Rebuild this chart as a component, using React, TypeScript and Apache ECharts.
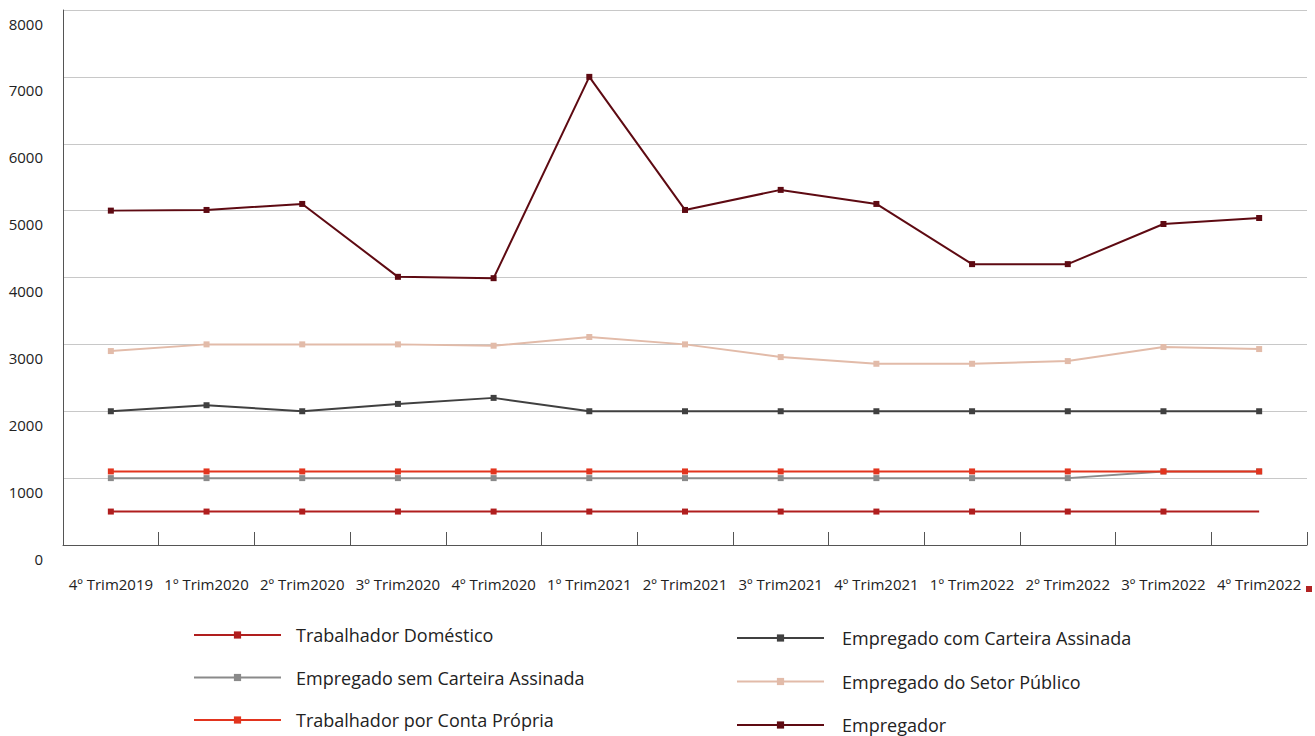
import React, { useEffect, useRef } from "react";
import * as echarts from "echarts";

const categories = [
  "4º Trim2019", "1º Trim2020", "2º Trim2020", "3º Trim2020", "4º Trim2020",
  "1º Trim2021", "2º Trim2021", "3º Trim2021", "4º Trim2021",
  "1º Trim2022", "2º Trim2022", "3º Trim2022", "4º Trim2022",
];

const domestico = [500, 500, 500, 500, 500, 500, 500, 500, 500, 500, 500, 500, 500];
const semCarteira = [1000, 1000, 1000, 1000, 1000, 1000, 1000, 1000, 1000, 1000, 1000, 1100, 1100];
const contaPropria = [1100, 1100, 1100, 1100, 1100, 1100, 1100, 1100, 1100, 1100, 1100, 1100, 1100];
const comCarteira = [2000, 2090, 2000, 2110, 2200, 2000, 2000, 2000, 2000, 2000, 2000, 2000, 2000];
const setorPublico = [2900, 3000, 3000, 3000, 2980, 3110, 3000, 2810, 2710, 2710, 2750, 2960, 2930];
const empregador = [5000, 5010, 5100, 4010, 3990, 7000, 5010, 5310, 5100, 4200, 4200, 4800, 4890];

const FONT = "'Open Sans', 'Noto Sans', sans-serif";

export default function App() {
  const ref = useRef<HTMLDivElement>(null);
  useEffect(() => {
    if (!ref.current) return;
    const chart = echarts.init(ref.current, undefined, { renderer: "svg" });
    const mk = (name: string, data: any[], color: string, z: number) => ({
      name,
      type: "line",
      data,
      symbol: "rect",
      symbolSize: 6,
      showSymbol: true,
      z,
      lineStyle: { color, width: 2 },
      itemStyle: { color },
      emphasis: { disabled: true },
    });
    const domData = domestico.map((v, i) =>
      i === domestico.length - 1 ? { value: v, symbol: "none" } : v
    );
    const legendText = (pad: number) => ({
      fontFamily: FONT,
      fontSize: 18,
      color: "#222",
      padding: [0, 0, 0, pad],
    });
    const legendBase = {
      orient: "vertical",
      itemWidth: 87,
      itemHeight: 9,
      height: 120,
      width: 450,
      padding: 0,
      selectedMode: false,
    };
    chart.setOption({
      animation: false,
      backgroundColor: "#fff",
      grid: { left: 63, right: 8, top: 10, bottom: 191, outerBoundsMode: "none", containLabel: false },
      xAxis: {
        type: "category",
        data: categories,
        boundaryGap: true,
        axisLine: { show: true, lineStyle: { color: "#555", width: 1 } },
        axisTick: { show: true, inside: true, length: 13, lineStyle: { color: "#555" } },
        axisLabel: {
          fontFamily: FONT,
          fontSize: 15,
          color: "#222",
          margin: 31,
          interval: 0,
        },
        splitLine: { show: false },
      },
      yAxis: {
        type: "value",
        min: 0,
        max: 8000,
        interval: 1000,
        axisLine: { show: true, lineStyle: { color: "#555", width: 1 } },
        axisTick: { show: false },
        axisLabel: {
          fontFamily: FONT,
          fontSize: 15,
          color: "#222",
          margin: 20,
          lineHeight: 27,
          formatter: (v: number) => "\n" + String(v),
        },
        splitLine: { show: true, lineStyle: { color: "#c8c8c8", width: 1 } },
      },
      legend: [
        {
          ...legendBase,
          left: 193,
          top: 626,
          itemGap: 24.5,
          textStyle: legendText(10),
          data: ["Trabalhador Doméstico", "Empregado sem Carteira Assinada", "Trabalhador por Conta Própria"],
        },
        {
          ...legendBase,
          left: 736,
          top: 629,
          itemGap: 25.5,
          textStyle: legendText(13),
          data: ["Empregado com Carteira Assinada", "Empregado do Setor Público", "Empregador"],
        },
      ],
      graphic: [
        {
          type: "rect",
          shape: { x: 1306, y: 586, width: 6, height: 6 },
          style: { fill: "#B22222" },
        },
      ],
      series: [
        mk("Empregador", empregador, "#5E0A12", 2),
        mk("Empregado do Setor Público", setorPublico, "#E2BBA9", 3),
        mk("Empregado com Carteira Assinada", comCarteira, "#404040", 4),
        mk("Empregado sem Carteira Assinada", semCarteira, "#8A8A8A", 5),
        mk("Trabalhador por Conta Própria", contaPropria, "#E2341E", 6),
        mk("Trabalhador Doméstico", domData, "#B01E1E", 7),
      ],
    });
    return () => chart.dispose();
  }, []);
  return <div ref={ref} style={{ width: 1315, height: 736, position: "absolute", left: 0, top: 0 }} />;
}
